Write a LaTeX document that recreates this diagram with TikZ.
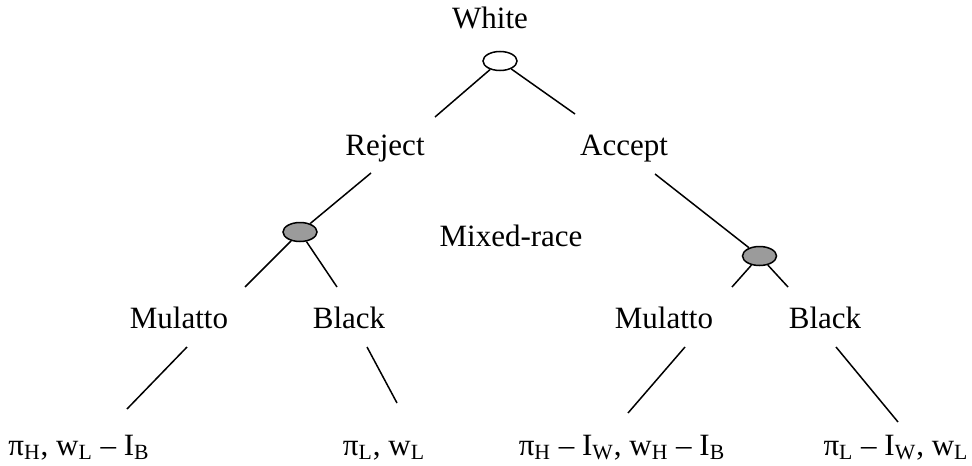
\documentclass[tikz,border=0pt]{standalone}
\usepackage{fontspec}
\setmainfont{Liberation Serif}
\usetikzlibrary{shapes.geometric}
\definecolor{nodeGray}{RGB}{155,155,155}

\begin{document}
\begin{tikzpicture}[x=0.5pt, y=-0.5pt,
      lbl/.style={anchor=base, inner sep=0pt, font=\fontsize{15.5}{18}\selectfont},
      move/.style={draw, ellipse, minimum width=17pt, minimum height=9.5pt,
                   inner sep=0pt, line width=0.75pt},
      branch/.style={line width=0.75pt}
    ]
    \useasboundingbox (0,0) rectangle (972,465);

    % decision nodes
    \node[move, fill=white]    (white) at (500,61)    {};
    \node[move, fill=nodeGray] (mixL)  at (300,232)   {};
    \node[move, fill=nodeGray] (mixR)  at (759.5,256) {};

    % labels
    \node[lbl] (lwhite) at (490,29)  {White};
    \node[lbl] (rej)    at (385,155) {Reject};
    \node[lbl] (acc)    at (624,155) {Accept};
    \node[lbl] (mixed)  at (511,246) {Mixed-race};
    \node[lbl] (mulL)   at (179,328) {Mulatto};
    \node[lbl] (blkL)   at (349,328) {Black};
    \node[lbl] (mulR)   at (664,328) {Mulatto};
    \node[lbl] (blkR)   at (825,328) {Black};

    % payoffs
    \node[lbl] (payA) at (79,455)  {π\textsubscript{H}, w\textsubscript{L} – I\textsubscript{B}};
    \node[lbl] (payB) at (384,455) {π\textsubscript{L}, w\textsubscript{L}};
    \node[lbl] (payC) at (622,455) {π\textsubscript{H} – I\textsubscript{W}, w\textsubscript{H} – I\textsubscript{B}};
    \node[lbl] (payD) at (896,455) {π\textsubscript{L} – I\textsubscript{W}, w\textsubscript{L}};

    % branch ends
    \coordinate (rejUp) at (435,117);
    \coordinate (rejDn) at (371,173);
    \coordinate (accUp) at (575,114);
    \coordinate (accDn) at (655,174);
    \coordinate (mulLUp) at (245,287);
    \coordinate (blkLUp) at (337,287);
    \coordinate (mulRUp) at (732,287);
    \coordinate (blkRUp) at (788,287);
    \coordinate (mulLDn) at (187,347);
    \coordinate (blkLDn) at (367,347);
    \coordinate (mulRDn) at (685,347);
    \coordinate (blkRDn) at (836,347);
    \coordinate (payAUp) at (127,409);
    \coordinate (payBUp) at (397,403);
    \coordinate (payCUp) at (628,413);
    \coordinate (payDUp) at (898,422);

    \draw[branch] (white) -- (rejUp);
    \draw[branch] (white) -- (accUp);
    \draw[branch] (rejDn) -- (mixL);
    \draw[branch] (accDn) -- (mixR);
    \draw[branch] (mixL)  -- (mulLUp);
    \draw[branch] (mixL)  -- (blkLUp);
    \draw[branch] (mixR)  -- (mulRUp);
    \draw[branch] (mixR)  -- (blkRUp);
    \draw[branch] (mulLDn) -- (payAUp);
    \draw[branch] (blkLDn) -- (payBUp);
    \draw[branch] (mulRDn) -- (payCUp);
    \draw[branch] (blkRDn) -- (payDUp);
  \end{tikzpicture}
\end{document}
